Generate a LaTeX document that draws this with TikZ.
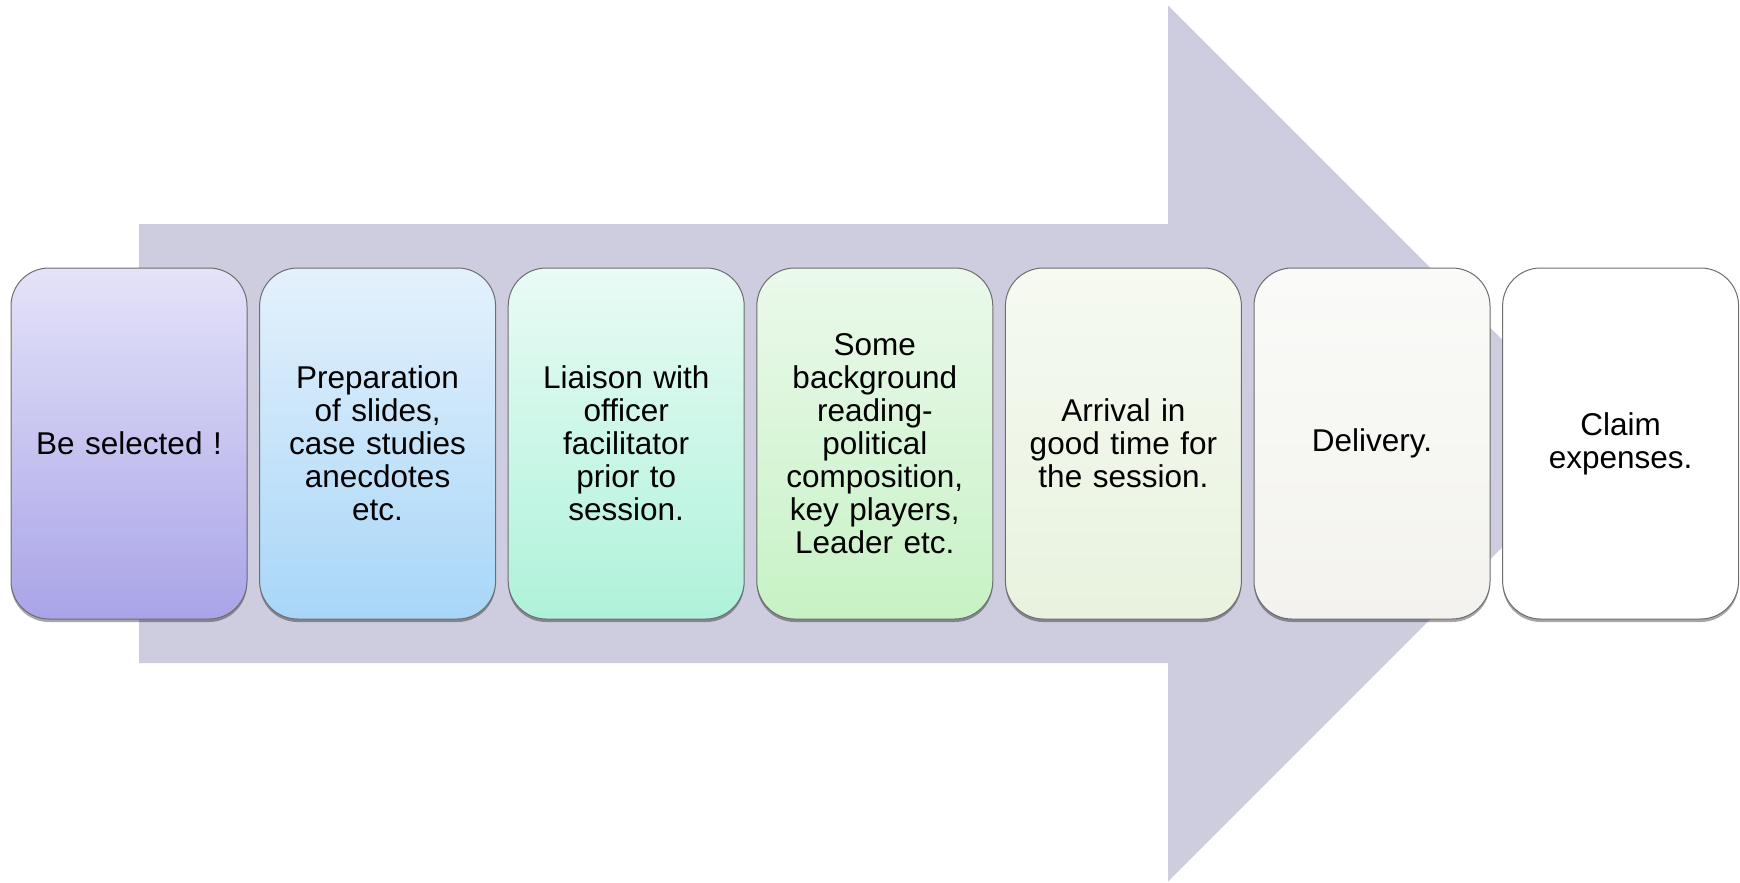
\documentclass[tikz,border=0pt]{standalone}
\usepackage{fontspec}
\setmainfont{Liberation Sans}
\usetikzlibrary{shadows}
\definecolor{arrowfill}{HTML}{CDCDDF}
\definecolor{boxline}{HTML}{6E6E6E}
\definecolor{aT}{HTML}{E4E3F8}\definecolor{aB}{HTML}{A9A4E8}
\definecolor{bT}{HTML}{E4F1FC}\definecolor{bB}{HTML}{A8D6F8}
\definecolor{cT}{HTML}{E9FBF4}\definecolor{cB}{HTML}{AEF2DA}
\definecolor{dT}{HTML}{EBF9EB}\definecolor{dB}{HTML}{C7F2C5}
\definecolor{eT}{HTML}{F6FAF1}\definecolor{eB}{HTML}{E8F2DE}
\definecolor{fT}{HTML}{FAFBF8}\definecolor{fB}{HTML}{F3F2EE}
\tikzset{
  stepbox/.style={draw=boxline, line width=1pt, rounded corners=38pt,
    minimum width=236pt, minimum height=351pt, text width=200pt,
    align=center, inner sep=0pt,
    font=\fontsize{31.5}{33}\selectfont,
    drop shadow={shadow xshift=0pt, shadow yshift=-3pt, opacity=0.35, fill=black}},
  grad/.style 2 args={top color=#1, bottom color=#2}
}
\begin{document}
\begin{tikzpicture}[x=1pt,y=-1pt]
  \useasboundingbox (0,0) rectangle (1740,883);
  % big process arrow behind the steps
  \fill[arrowfill] (139,224) -- (1168,224) -- (1168,5.5) -- (1606,443.5)
    -- (1168,881.5) -- (1168,663) -- (139,663) -- cycle;
  % the seven steps
  \node[stepbox, grad={aT}{aB}] (b1) at (129,443.5) {Be selected !};
  \node[stepbox, grad={bT}{bB}] (b2) at (377.6,443.5) {Preparation\\of slides,\\case studies\\anecdotes\\etc.};
  \node[stepbox, grad={cT}{cB}] (b3) at (626.2,443.5) {Liaison with\\officer\\facilitator\\prior to\\session.};
  \node[stepbox, grad={dT}{dB}] (b4) at (874.8,443.5) {Some\\background\\reading-\\political\\composition,\\key players,\\Leader etc.};
  \node[stepbox, grad={eT}{eB}] (b5) at (1123.4,443.5) {Arrival in\\good time for\\the session.};
  \node[stepbox, grad={fT}{fB}] (b6) at (1372,443.5) {Delivery.};
  \node[stepbox, fill=white] (b7) at (1620.6,443.5) {Claim\\expenses.};
\end{tikzpicture}
\end{document}
